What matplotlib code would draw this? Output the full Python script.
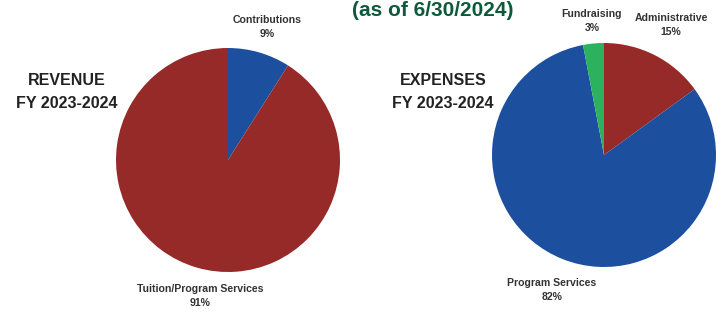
import matplotlib.pyplot as plt

# Revenue FY 2023-2024
rev_labels = ["Contributions", "Tuition/Program Services"]
rev_values = [9, 91]
rev_colors = ["#1d4f9f", "#962a28"]

# Expenses FY 2023-2024
exp_labels = ["Administrative", "Program Services", "Fundraising"]
exp_values = [15, 82, 3]
exp_colors = ["#962a28", "#1d4f9f", "#2cb25e"]

W, H = 717, 312


def y(v):
    # image pixel row -> data coordinate
    return H - v


fig = plt.figure(figsize=(W / 100, H / 100), dpi=100)
ax = fig.add_axes([0, 0, 1, 1])

ax.pie(rev_values, colors=rev_colors, startangle=90, counterclock=False,
       center=(228, y(160)), radius=112, wedgeprops={"linewidth": 0})
ax.pie(exp_values, colors=exp_colors, startangle=90, counterclock=False,
       center=(604, y(155)), radius=112, wedgeprops={"linewidth": 0})

ax.set_xlim(0, W)
ax.set_ylim(0, H)
ax.set_aspect("equal")
ax.axis("off")

lab = dict(ha="center", va="center", fontsize=7.6, fontweight="bold",
           color="#333333", family="Liberation Sans", linespacing=1.5)
ax.text(267, y(27), f"{rev_labels[0]}\n{rev_values[0]}%", **lab)
ax.text(200, y(296), f"{rev_labels[1]}\n{rev_values[1]}%", **lab)
ax.text(671, y(25), f"{exp_labels[0]}\n{exp_values[0]}%", **lab)
ax.text(552, y(290), f"{exp_labels[1]}\n{exp_values[1]}%", **lab)
ax.text(592, y(21), f"{exp_labels[2]}\n{exp_values[2]}%", **lab)

head = dict(ha="center", va="center", fontsize=11.5, fontweight="bold",
            color="#222222", family="Liberation Sans", linespacing=1.6)
ax.text(67, y(92), "REVENUE\nFY 2023-2024", **head)
ax.text(443, y(92), "EXPENSES\nFY 2023-2024", **head)

ax.text(433, y(10), "(as of 6/30/2024)", ha="center", va="center",
        fontsize=15, fontweight="bold", color="#0c5a3b", family="Liberation Sans")

fig.savefig("out.png", dpi=100)
